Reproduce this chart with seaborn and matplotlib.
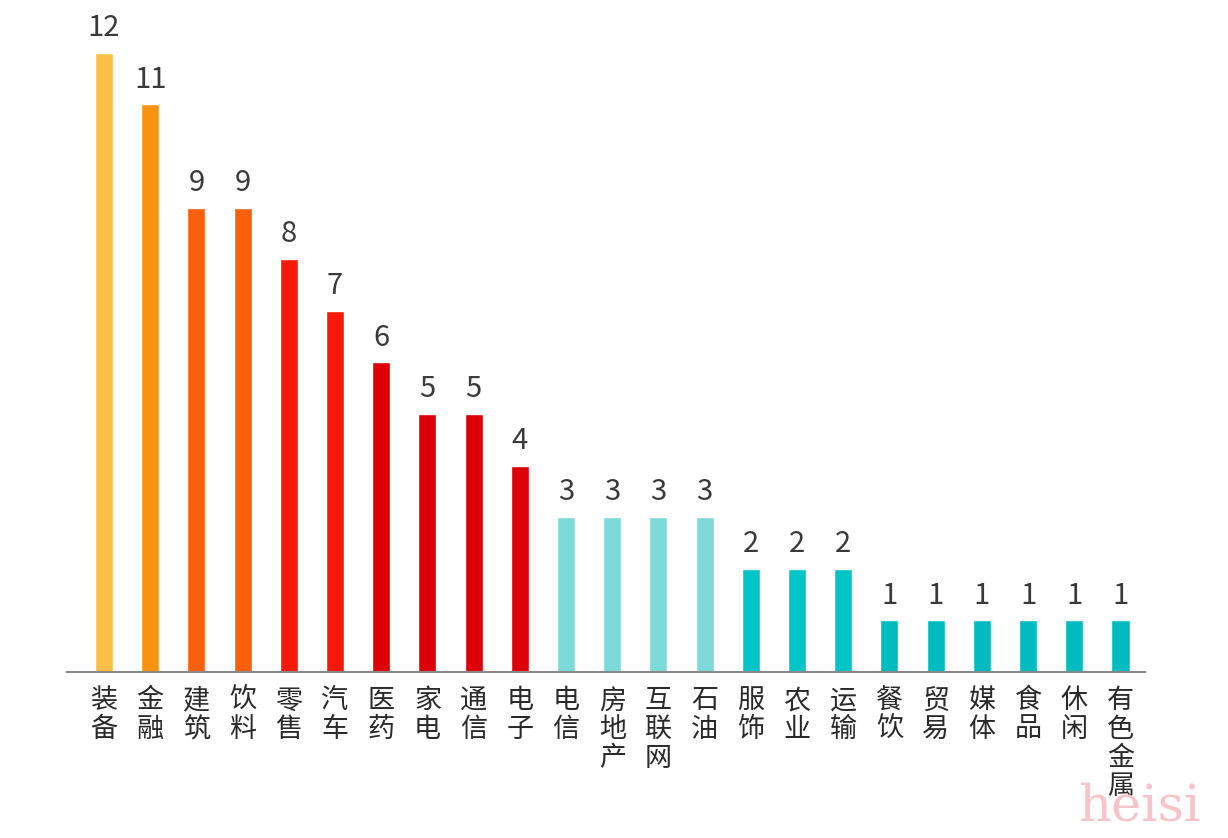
import matplotlib
matplotlib.use('Agg')
import pandas as pd
import seaborn as sns
from matplotlib import pyplot as plt

industries = ['装备', '金融', '建筑', '饮料', '零售', '汽车', '医药', '家电', '通信', '电子',
              '电信', '房地产', '互联网', '石油', '服饰', '农业', '运输', '餐饮', '贸易', '媒体',
              '食品', '休闲', '有色金属']
counts = [12, 11, 9, 9, 8, 7, 6, 5, 5, 4, 3, 3, 3, 3, 2, 2, 2, 1, 1, 1, 1, 1, 1]
bar_colors = ['#FDBE45', '#F7930F', '#FA5F0C', '#FA5F0C', '#F71A0C', '#F71A0C',
              '#DC0006', '#DC0006', '#DC0006', '#DC0006',
              '#7ED9D9', '#7ED9D9', '#7ED9D9', '#7ED9D9',
              '#00C5C8', '#00C5C8', '#00C5C8',
              '#00BCC0', '#00BCC0', '#00BCC0', '#00BCC0', '#00BCC0', '#00BCC0']

df = pd.DataFrame({'industry': industries, 'count': counts})

sns.set_style("white")
plt.rcParams['font.family'] = ['Noto Sans CJK SC', 'DejaVu Sans']

fig = plt.figure(figsize=(12.28, 8.38), dpi=100)
ax = fig.add_axes([0.0546, 0.198, 0.8778, 0.802])

sns.barplot(x='industry', y='count', data=df, hue='industry',
            palette=bar_colors, legend=False, width=0.39, saturation=1, ax=ax)

for c in ax.containers:
    ax.bar_label(c, padding=7, fontsize=21, color='#3a3a3a')

ax.set_ylim(0, 13.02)
ax.set_xlim(-0.8, 22.53)
ax.set_xticks(range(len(industries)))
ax.set_xticklabels(['\n'.join(s) for s in industries], fontsize=19.5,
                   color='#2a2a2a', linespacing=1.08, va='top')
ax.tick_params(axis='x', length=0, pad=11)
ax.set_yticks([])
ax.set_xlabel('')
ax.set_ylabel('')
sns.despine(left=True)
ax.spines['bottom'].set_color('#888888')
ax.spines['bottom'].set_linewidth(1.5)

fig.text(0.878, 0.008, 'heisi', fontsize=37, color='#F7C4CA',
         family='DejaVu Serif', ha='left', va='bottom')

plt.savefig('out.png', dpi=100)
